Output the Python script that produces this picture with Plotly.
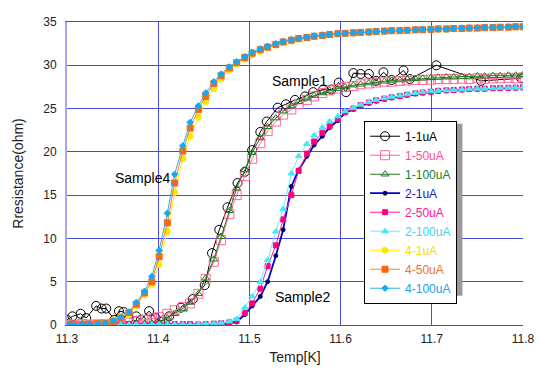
import plotly.graph_objects as go

# ---------------- data ----------------
T_grid = [11.300, 11.308, 11.317, 11.325, 11.334, 11.342, 11.351, 11.359, 11.368, 11.376,
          11.385, 11.393, 11.401, 11.410, 11.418, 11.427, 11.435, 11.444, 11.452, 11.461,
          11.469, 11.478, 11.486, 11.495, 11.503, 11.512, 11.520, 11.529, 11.537, 11.546,
          11.554, 11.563, 11.571, 11.580, 11.588, 11.597, 11.605, 11.614, 11.622, 11.631,
          11.639, 11.648, 11.656, 11.665, 11.673, 11.682, 11.690, 11.699, 11.707, 11.716,
          11.724, 11.733, 11.741, 11.750, 11.758, 11.767, 11.775, 11.784, 11.792, 11.800]

T_1_1uA = [11.300, 11.306, 11.315, 11.321, 11.332, 11.338, 11.343, 11.352, 11.357, 11.362,
           11.368, 11.376, 11.381, 11.390, 11.397, 11.402, 11.412, 11.425, 11.438, 11.451,
           11.459, 11.467, 11.476, 11.487, 11.495, 11.503, 11.512, 11.519, 11.531, 11.540,
           11.550, 11.561, 11.570, 11.581, 11.590, 11.598, 11.606, 11.614, 11.622, 11.631,
           11.639, 11.647, 11.656, 11.669, 11.676, 11.705, 11.754, 11.798]
R_1_1uA = [0.6, 1.0, 1.3, 0.8, 2.2, 1.9, 1.9, 0.6, 1.6, 1.5,
           0.8, 1.0, 0.6, 1.6, 0.8, 0.4, 1.0, 2.0, 3.0, 4.6,
           8.3, 11.0, 13.6, 16.4, 17.7, 20.2, 22.3, 23.5, 25.1, 25.5,
           26.0, 26.4, 26.9, 27.2, 27.2, 28.0, 26.9, 29.1, 29.0, 29.0,
           28.2, 29.2, 28.3, 29.4, 28.4, 30.0, 28.2, 28.5]

R_1_50uA = [0.05, 0.05, 0.1, 0.05, 0.05, 0.1, 0.05, 0.1, 0.3, 0.45,
            0.6, 0.75, 0.9, 1.3, 1.7, 2.1, 2.5, 3.6, 5.3, 7.3,
            9.8, 12.8, 15.0, 17.2, 19.2, 21.0, 22.4, 23.5, 24.3, 24.9,
            25.5, 26.0, 26.4, 26.8, 27.1, 27.3, 27.5, 27.6, 27.8, 27.9,
            28.0, 28.1, 28.1, 28.2, 28.25, 28.3, 28.3, 28.35, 28.4, 28.4,
            28.4, 28.45, 28.4, 28.5, 28.45, 28.5, 28.5, 28.55, 28.5, 28.6]

R_1_100uA = [0.05, 0.0, 0.05, 0.1, 0.05, 0.05, 0.1, 0.05, 0.1, 0.1,
             0.15, 0.2, 0.3, 0.8, 1.3, 1.9, 2.6, 3.6, 5.4, 7.6,
             10.2, 13.2, 15.8, 17.9, 19.9, 21.6, 22.9, 23.9, 24.7, 25.3,
             25.8, 26.2, 26.5, 26.8, 27.1, 27.3, 27.5, 27.7, 27.8, 27.95,
             28.05, 28.15, 28.25, 28.3, 28.4, 28.45, 28.5, 28.55, 28.6, 28.65,
             28.65, 28.7, 28.7, 28.75, 28.75, 28.8, 28.8, 28.85, 28.85, 28.9]

R_2_1uA = [0.05, 0.1, 0.05, 0.05, 0.1, 0.05, 0.05, 0.1, 0.05, 0.05,
           0.1, 0.05, 0.1, 0.05, 0.1, 0.05, 0.1, 0.1, 0.05, 0.1,
           0.1, 0.15, 0.35, 1.2, 2.2, 3.3, 5.0, 8.0, 11.0, 16.0,
           17.9, 19.5, 20.8, 21.8, 22.8, 23.6, 24.5, 24.9, 25.3, 25.6,
           25.85, 26.05, 26.25, 26.4, 26.55, 26.7, 26.8, 26.9, 27.0, 27.05,
           27.1, 27.15, 27.2, 27.25, 27.28, 27.3, 27.33, 27.36, 27.38, 27.4]

R_2_50uA = [0.1, 0.05, 0.1, 0.1, 0.05, 0.1, 0.1, 0.05, 0.1, 0.1,
            0.05, 0.1, 0.1, 0.05, 0.1, 0.1, 0.1, 0.05, 0.1, 0.15,
            0.2, 0.3, 0.5, 1.4, 2.5, 4.2, 6.8, 9.2, 12.2, 15.0,
            17.8, 19.8, 21.2, 22.2, 23.0, 23.8, 24.6, 25.0, 25.4, 25.7,
            25.95, 26.15, 26.3, 26.45, 26.6, 26.75, 26.85, 26.95, 27.05, 27.1,
            27.15, 27.2, 27.25, 27.3, 27.3, 27.35, 27.38, 27.4, 27.42, 27.45]

R_2_100uA = [0.05, 0.1, 0.05, 0.1, 0.05, 0.1, 0.05, 0.1, 0.05, 0.1,
             0.05, 0.1, 0.1, 0.05, 0.1, 0.1, 0.05, 0.1, 0.15, 0.2,
             0.25, 0.4, 0.7, 2.0, 3.3, 5.0, 7.5, 10.8, 13.4, 17.5,
             19.5, 20.9, 21.9, 22.8, 23.5, 24.1, 24.7, 25.1, 25.45, 25.75,
             26.0, 26.2, 26.35, 26.5, 26.65, 26.8, 26.9, 27.0, 27.05, 27.1,
             27.15, 27.2, 27.25, 27.3, 27.3, 27.35, 27.38, 27.4, 27.42, 27.45]

R_4_1uA = [0.0, 0.05, 0.1, 0.1, 0.2, 0.3, 0.6, 1.0, 1.2, 2.2,
           3.5, 4.7, 7.0, 10.8, 15.3, 19.2, 21.8, 24.0, 25.8, 27.3,
           28.4, 29.4, 30.1, 30.7, 31.2, 31.6, 32.0, 32.3, 32.6, 32.8,
           33.0, 33.15, 33.3, 33.4, 33.5, 33.6, 33.65, 33.7, 33.75, 33.8,
           33.85, 33.9, 33.95, 34.0, 34.0, 34.05, 34.1, 34.1, 34.15, 34.15,
           34.2, 34.25, 34.25, 34.3, 34.3, 34.35, 34.35, 34.4, 34.4, 34.45]

R_4_50uA = [0.1, 0.1, 0.1, 0.1, 0.2, 0.2, 0.4, 0.8, 1.45, 2.4,
            3.7, 5.0, 7.9, 11.8, 16.4, 20.1, 22.75, 24.9, 26.4, 27.9,
            28.8, 29.7, 30.3, 30.9, 31.4, 31.8, 32.1, 32.4, 32.7, 32.9,
            33.1, 33.2, 33.35, 33.45, 33.55, 33.65, 33.7, 33.75, 33.8, 33.85,
            33.9, 33.95, 34.0, 34.0, 34.05, 34.1, 34.1, 34.15, 34.2, 34.2,
            34.25, 34.25, 34.3, 34.3, 34.35, 34.35, 34.4, 34.4, 34.45, 34.45]

R_4_100uA = [0.1, 0.05, 0.1, 0.1, 0.15, 0.2, 0.5, 0.9, 1.5, 2.6,
             3.9, 5.6, 8.6, 12.9, 17.4, 20.7, 23.4, 25.3, 26.8, 28.1,
             29.0, 29.8, 30.4, 31.0, 31.5, 31.9, 32.2, 32.5, 32.75, 32.95,
             33.1, 33.25, 33.4, 33.5, 33.6, 33.65, 33.7, 33.75, 33.8, 33.85,
             33.9, 33.95, 34.0, 34.05, 34.05, 34.1, 34.15, 34.15, 34.2, 34.2,
             34.25, 34.3, 34.3, 34.35, 34.35, 34.4, 34.4, 34.45, 34.45, 34.5]

series_names = ["1-1uA", "1-50uA", "1-100uA", "2-1uA", "2-50uA", "2-100uA",
                "4-1uA", "4-50uA", "4-100uA"]
x_ticks = [11.3, 11.4, 11.5, 11.6, 11.7, 11.8]
y_ticks = [0, 5, 10, 15, 20, 25, 30, 35]
sample_labels = ["Sample1", "Sample2", "Sample4"]
sample_label_pos = [(11.555, 28.2), (11.558, 3.2), (11.383, 17.0)]

# ---------------- styles ----------------
styles = {
    "1-1uA":   dict(line="#000000", lw=1.0, mk="#000000", sym="circle-open", size=9, text="#000000"),
    "1-50uA":  dict(line="#FF6699", lw=1.0, mk="#FF6699", sym="square-open", size=9, text="#FF4D94"),
    "1-100uA": dict(line="#1E7D1E", lw=1.0, mk="#1E7D1E", sym="triangle-up-open", size=7, text="#1E7D1E"),
    "2-1uA":   dict(line="#0000D0", lw=1.8, mk="#000060", sym="circle", size=4, text="#1818C8"),
    "2-50uA":  dict(line="#FF1A8C", lw=1.0, mk="#FF0080", sym="square", size=5, text="#FF1493"),
    "2-100uA": dict(line="#66F0FF", lw=1.0, mk="#44E8F8", sym="triangle-up", size=6, text="#3ED8EE"),
    "4-1uA":   dict(line="#FFF000", lw=1.0, mk="#FFE800", sym="circle", size=6, text="#F5E000"),
    "4-50uA":  dict(line="#FF7A30", lw=1.0, mk="#FF6410", sym="square", size=6, text="#F07030"),
    "4-100uA": dict(line="#2AB0F0", lw=1.0, mk="#18A8F0", sym="diamond", size=5, text="#20A0E8"),
}

data = {
    "1-1uA": (T_1_1uA, R_1_1uA),
    "1-50uA": (T_grid, R_1_50uA),
    "1-100uA": (T_grid, R_1_100uA),
    "2-1uA": (T_grid, R_2_1uA),
    "2-50uA": (T_grid, R_2_50uA),
    "2-100uA": (T_grid, R_2_100uA),
    "4-1uA": (T_grid, R_4_1uA),
    "4-50uA": (T_grid, R_4_50uA),
    "4-100uA": (T_grid, R_4_100uA),
}

FONT = "Liberation Sans, Arial, sans-serif"
GRID = "#4A4AD8"

fig = go.Figure()
for name in series_names:
    xs, ys = data[name]
    s = styles[name]
    fig.add_trace(go.Scatter(
        x=xs, y=ys, mode="lines+markers",
        name=f"<span style='color:{s['text']}'>{name}</span>",
        line=dict(color=s["line"], width=s["lw"]),
        marker=dict(symbol=s["sym"], size=s["size"], color=s["mk"],
                    line=dict(color=s["mk"], width=1)),
    ))

for lab, (lx, ly) in zip(sample_labels, sample_label_pos):
    fig.add_annotation(x=lx, y=ly, text=lab, showarrow=False,
                       font=dict(family=FONT, size=14, color="#000000"))

# page has an 8px body margin: plot area spans page x 67..526, y 15..325
PW, PH = 459.0, 310.0
leg_left_px, leg_top_px = 366.0, 116.0
leg_w_px, leg_h_px = 96.0, 176.0
lg_x0 = (leg_left_px - 67) / PW
lg_y1 = (325 - leg_top_px) / PH
sh = 3.0
fig.add_shape(type="rect", xref="paper", yref="paper",
              x0=(leg_left_px + sh - 67) / PW, x1=(leg_left_px + leg_w_px + sh - 67) / PW,
              y0=(325 - (leg_top_px + leg_h_px + sh)) / PH, y1=(325 - (leg_top_px + sh)) / PH,
              fillcolor="#9a9a9a", line=dict(width=0), layer="above")

fig.update_layout(
    width=534, height=362,
    margin=dict(l=59, r=16, t=7, b=45),
    paper_bgcolor="white", plot_bgcolor="white",
    font=dict(family=FONT, size=12, color="#222222"),
    showlegend=True,
    legend=dict(x=lg_x0, y=lg_y1, xanchor="left", yanchor="top",
                bgcolor="white", bordercolor="#000000", borderwidth=1,
                font=dict(family=FONT, size=12), itemwidth=30,
                tracegroupgap=0),
    xaxis=dict(range=[11.3, 11.8], tickvals=x_ticks,
               ticktext=[f"{v:.1f}" for v in x_ticks],
               showgrid=True, gridcolor=GRID, gridwidth=1,
               showline=True, linecolor=GRID, mirror=True, zeroline=False,
               ticks="", tickfont=dict(size=12), ticklabelstandoff=3,
               title=dict(text="Temp[K]", font=dict(size=14), standoff=6)),
    yaxis=dict(range=[0, 35], tickvals=y_ticks,
               showgrid=True, gridcolor=GRID, gridwidth=1,
               showline=True, linecolor="#A8A8F0", linewidth=2, mirror=False,
               zeroline=False, ticks="", tickfont=dict(size=12), ticklabelstandoff=6,
               title=dict(text="Rresistance(ohm)", font=dict(size=14), standoff=16)),
)

fig.write_html("out.html")
